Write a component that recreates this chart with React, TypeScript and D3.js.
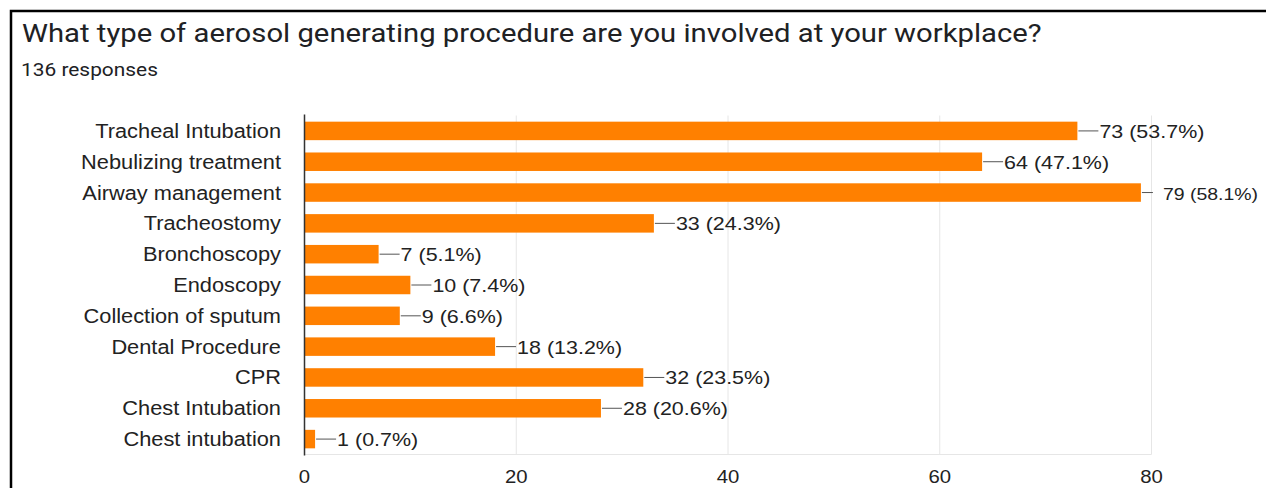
import React from "react";
import * as d3 from "d3";

const categories = [
  "Tracheal Intubation",
  "Nebulizing treatment",
  "Airway management",
  "Tracheostomy",
  "Bronchoscopy",
  "Endoscopy",
  "Collection of sputum",
  "Dental Procedure",
  "CPR",
  "Chest Intubation",
  "Chest intubation",
];
const counts = [73, 64, 79, 33, 7, 10, 9, 18, 32, 28, 1];
const percents = ["53.7%", "47.1%", "58.1%", "24.3%", "5.1%", "7.4%", "6.6%", "13.2%", "23.5%", "20.6%", "0.7%"];
const xTicks = [0, 20, 40, 60, 80];
const title = "What type of aerosol generating procedure are you involved at your workplace?";
const subtitle = "136 responses";

const W = 1266;
const H = 488;
const SX = 1.13;
const FONT = "'Liberation Sans', Arial, sans-serif";
const TFONT = "Roboto, 'Noto Sans', sans-serif";

function SText({ x, y, children, size, anchor = "start", family = FONT, fill = "#222" }: any) {
  return (
    <text
      transform={`translate(${x},${y}) scale(${SX},1)`}
      fontSize={size}
      fontFamily={family}
      textAnchor={anchor}
      fill={fill}
    >
      {children}
    </text>
  );
}

export default function App() {
  const x = d3.scaleLinear().domain([0, 80]).range([304.5, 1151.5]);
  const y = d3.scaleBand().domain(categories).range([115.5, 454.5]).paddingInner(0.4).paddingOuter(0.2);
  const bottom = 454.5;
  const top = 115.5;
  const labelW = 107;
  const maxRight = 1260;

  return (
    <svg
      width={W}
      height={H}
      style={{ position: "absolute", left: 0, top: 0, background: "#fff" }}
    >
      <rect x={0} y={0} width={W} height={H} fill="#fff" />
      <rect x={11} y={11} width={W + 20} height={H + 20} fill="none" stroke="#000" strokeWidth={2.5} />
      <SText x={22} y={41.5} size={25.9} family={TFONT} fill="#202124">{title}</SText>
      <SText x={21} y={75.5} size={18.5} family={TFONT} fill="#202124">{subtitle}</SText>

      {xTicks.slice(1).map((t) => (
        <line key={t} x1={x(t)} x2={x(t)} y1={top} y2={bottom} stroke="#e6e6e6" strokeWidth={1} />
      ))}
      <line x1={x(0)} x2={x(80)} y1={bottom} y2={bottom} stroke="#e6e6e6" strokeWidth={1} />

      {categories.map((c, i) => {
        const by = y(c)!;
        const bh = y.bandwidth();
        const cy = by + bh / 2;
        const xe = x(counts[i]);
        const tx = xe + 22;
        const tight = tx + labelW > maxRight;
        const fs = tight ? 19 * (maxRight - tx) / labelW : 19;
        return (
          <g key={c}>
            <rect x={x(0)} y={by} width={xe - x(0)} height={bh} fill="#ff8000" />
            <line x1={xe + 1} x2={tight ? xe + 12 : xe + 21} y1={cy} y2={cy} stroke="#555" strokeWidth={1} />
            <SText x={tx} y={cy + 7} size={fs}>{`${counts[i]} (${percents[i]})`}</SText>
            <SText x={281} y={cy + 7} size={19.3} anchor="end">{c}</SText>
          </g>
        );
      })}

      <line x1={x(0)} x2={x(0)} y1={top - 1} y2={bottom + 1} stroke="#333" strokeWidth={1.5} />

      {xTicks.map((t) => (
        <SText key={t} x={x(t)} y={483} size={18} anchor="middle">{t}</SText>
      ))}
    </svg>
  );
}
